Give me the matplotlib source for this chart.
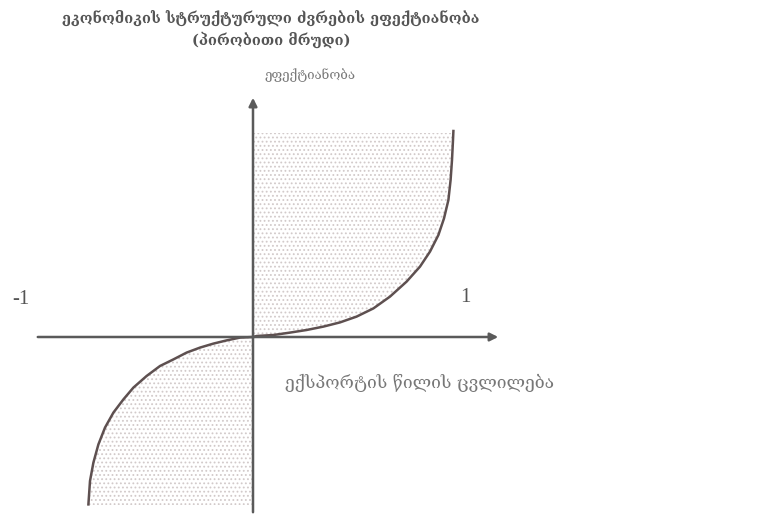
import matplotlib
matplotlib.use('Agg')
import matplotlib.pyplot as plt

plt.rcParams['font.family'] = ['DejaVu Serif', 'DejaVu Sans']
plt.rcParams['hatch.linewidth'] = 0.8

title_1 = 'ეკონომიკის სტრუქტურული ძვრების ეფექტიანობა'
title_2 = '(პირობითი მრუდი)'
y_label = 'ეფექტიანობა'
x_label = 'ექსპორტის წილის ცვლილება'

# curve (one unit = 200 px)
right_x = [0.0, 0.018, 0.102, 0.185, 0.268, 0.352, 0.435, 0.518, 0.602, 0.685, 0.768,
           0.835, 0.885, 0.927, 0.955, 0.977, 0.988, 0.995, 1.0, 1.002]
right_y = [0.0, 0.005, 0.01, 0.022, 0.035, 0.052, 0.073, 0.102, 0.143, 0.202, 0.277,
           0.352, 0.427, 0.51, 0.593, 0.685, 0.785, 0.885, 0.985, 1.03]
left_x = [0.0, -0.065, -0.132, -0.198, -0.265, -0.332, -0.398, -0.465, -0.532, -0.598,
          -0.648, -0.698, -0.74, -0.773, -0.798, -0.815, -0.823]
left_y = [0.0, -0.003, -0.017, -0.033, -0.053, -0.078, -0.112, -0.145, -0.195, -0.253,
          -0.312, -0.378, -0.453, -0.537, -0.628, -0.72, -0.837]
top = 1.02
bottom = -0.84

axis_col = '#5a5a5a'
curve_col = '#5e5050'
dot_col = '#d2caca'
text_col = '#555555'

fig = plt.figure(figsize=(7.72, 5.18), dpi=100)
ax = fig.add_axes([0, 0, 1, 1])
ax.set_xlim(-1.265, 2.595)
ax.set_ylim(-0.905, 1.685)
ax.axis('off')

# dotted shading
ax.fill_between(right_x[:-1], right_y[:-1], top, facecolor='none', edgecolor=dot_col, hatch='....', linewidth=0)
ax.fill_between(left_x, left_y, bottom, facecolor='none', edgecolor=dot_col, hatch='....', linewidth=0)

# axes with arrows
ax.annotate('', xy=(1.24, 0), xytext=(-1.09, 0),
            arrowprops=dict(arrowstyle='-|>', color=axis_col, lw=1.8, mutation_scale=12))
ax.annotate('', xy=(0, 1.21), xytext=(0, -0.89),
            arrowprops=dict(arrowstyle='-|>', color=axis_col, lw=1.8, mutation_scale=12))

ax.plot(right_x, right_y, color=curve_col, lw=1.8, solid_joinstyle='round')
ax.plot(left_x, left_y, color=curve_col, lw=1.8, solid_joinstyle='round')

ax.text(-1.16, 0.185, '-1', family=['Liberation Serif'], fontsize=15, color=text_col, ha='center', va='center')
ax.text(1.06, 0.195, '1', family=['Liberation Serif'], fontsize=15, color=text_col, ha='center', va='center')

ax.text(0.06, 1.31, y_label, fontsize=9.5, color='#777777', ha='left', va='center')
ax.text(0.16, -0.23, x_label, fontsize=12.5, color='#777777', ha='left', va='center')

ax.text(0.09, 1.595, title_1, fontsize=10.5, color=text_col, ha='center', va='center', fontweight='bold')
ax.text(0.09, 1.485, title_2, fontsize=10.5, color=text_col, ha='center', va='center', fontweight='bold')

fig.savefig('out.png', dpi=100)
